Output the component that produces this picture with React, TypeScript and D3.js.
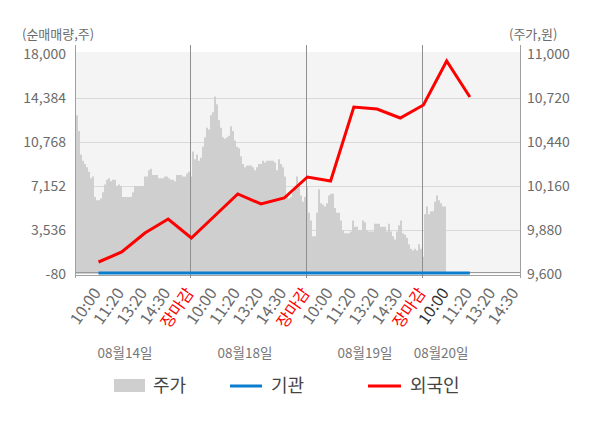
import { useEffect, useRef } from 'react';
import * as d3 from 'd3';

// x-axis categories (4 trading days)
const tickLabels = [
    "10:00", "11:20", "13:20", "14:30", "장마감",
    "10:00", "11:20", "13:20", "14:30", "장마감",
    "10:00", "11:20", "13:20", "14:30", "장마감",
    "10:00", "11:20", "13:20", "14:30",
];
const dayLabels = ["08월14일", "08월18일", "08월19일", "08월20일"];

// 순매매량 (주) per tick
const foreignNet = [906, 1728, 3290, 4440, 2879, 4687, 6495, 5673, 6166, 7892, 7563, 13644, 13480, 12740, 13809, 17425, 14466];
const institutionNet = [0, 0, 0, 0, 0, 0, 0, 0, 0, 0, 0, 0, 0, 0, 0, 0, 0];

const leftTicks = [-80, 3536, 7152, 10768, 14384, 18000];
const rightTicks = [9600, 9880, 10160, 10440, 10720, 11000];

// 주가 (원), intraday samples
const priceDay1 = [10610, 10510, 10360, 10320, 10300, 10280, 10250, 10210, 10220, 10090, 10070, 10070, 10080, 10120, 10170, 10200, 10210, 10190, 10200, 10200, 10160, 10170, 10160, 10090, 10090, 10090, 10090, 10090, 10120, 10160, 10160, 10160, 10160, 10160, 10220, 10220, 10260, 10270, 10230, 10230, 10230, 10210, 10210, 10210, 10220, 10220, 10210, 10200, 10200, 10190, 10230, 10230, 10230, 10220, 10220, 10240, 10250, 10220];
const priceDay2 = [10380, 10330, 10360, 10320, 10340, 10410, 10470, 10530, 10520, 10610, 10630, 10730, 10680, 10580, 10530, 10470, 10460, 10470, 10480, 10540, 10510, 10450, 10410, 10400, 10350, 10300, 10280, 10290, 10290, 10290, 10280, 10260, 10280, 10300, 10300, 10320, 10310, 10320, 10320, 10320, 10320, 10310, 10260, 10330, 10300, 10280, 10220, 10100, 10080, 10090, 10120, 10160, 10220, 10160, 10100, 10060, 10090, 10160];
const priceDay3 = [9990, 9940, 9840, 9840, 9990, 10140, 10050, 10040, 10030, 10050, 10100, 10110, 10110, 10020, 9990, 9990, 9940, 9880, 9860, 9860, 9860, 9870, 9940, 9900, 9900, 9880, 9880, 9940, 9930, 9880, 9870, 9870, 9870, 9920, 9920, 9920, 9900, 9900, 9900, 9870, 9920, 9870, 9840, 9820, 9870, 9910, 9940, 9860, 9850, 9830, 9790, 9760, 9750, 9760, 9750, 9790, 9760, 9710];
const priceDay4 = [9980, 10030, 9980, 10000, 10000, 10060, 10100, 10070, 10050, 10030, 10030];

const FONT = '"Noto Sans CJK KR", "Noto Sans", sans-serif';

export default function App() {
    const ref = useRef<SVGSVGElement>(null);

    useEffect(() => {
        if (!ref.current) return;
        const svg = d3.select(ref.current);
        svg.selectAll("*").remove();

        const left = 76, right = 520, top = 52, bottom = 274;
        const prices = [...priceDay1, ...priceDay2, ...priceDay3, ...priceDay4];
        const fmt = (v: number) => d3.format(",")(v).replace("−", "-");

        const xCat = d3.scaleLinear().domain([-0.97, 18.16]).range([left, right]);
        const xPrice = d3.scaleLinear().domain([0, prices.length - 1]).range([left, 444]);
        const yLeft = d3.scaleLinear().domain([-80, 18000]).range([274, 54]);
        const yRight = d3.scaleLinear().domain([9600, 11000]).range([274, 54]);

        // plot background
        svg.append("rect")
            .attr("x", left).attr("y", top)
            .attr("width", right - left).attr("height", bottom - top)
            .attr("fill", "#f4f4f4");

        // gridlines
        svg.append("g")
            .selectAll("line")
            .data(leftTicks.slice(1, -1))
            .join("line")
            .attr("x1", left).attr("x2", right)
            .attr("y1", d => Math.round(yLeft(d)) + 0.5)
            .attr("y2", d => Math.round(yLeft(d)) + 0.5)
            .attr("stroke", "#d9d9d9");

        // price area
        const area = d3.area<number>()
            .x((d, i) => xPrice(i))
            .y0(yRight(9600))
            .y1(d => yRight(d))
            .curve(d3.curveStepAfter);
        svg.append("path")
            .datum([...prices, prices[prices.length - 1]])
            .attr("d", area)
            .attr("fill", "#cfcfcf");

        // zero line
        svg.append("line")
            .attr("x1", left).attr("x2", right)
            .attr("y1", Math.round(yLeft(0)) - 0.5).attr("y2", Math.round(yLeft(0)) - 0.5)
            .attr("stroke", "#9a9a9a");

        // axis lines
        svg.append("line")
            .attr("x1", left).attr("x2", right)
            .attr("y1", 275.5).attr("y2", 275.5)
            .attr("stroke", "#a0a0a0");
        [left - 0.5, right + 0.5].forEach(x => {
            svg.append("line")
                .attr("x1", x).attr("x2", x)
                .attr("y1", 45).attr("y2", 278)
                .attr("stroke", "#a0a0a0");
        });

        // day separators at 장마감
        svg.append("g")
            .selectAll("line")
            .data(tickLabels.map((t, i) => ({ t, i })).filter(d => d.t === "장마감"))
            .join("line")
            .attr("x1", d => Math.round(xCat(d.i)) - 0.5)
            .attr("x2", d => Math.round(xCat(d.i)) - 0.5)
            .attr("y1", 45).attr("y2", 278)
            .attr("stroke", "#8f8f8f");

        // net buying lines
        const line = d3.line<number>()
            .x((d, i) => xCat(i))
            .y(d => yLeft(d));
        svg.append("path")
            .datum(institutionNet)
            .attr("d", line)
            .attr("fill", "none")
            .attr("stroke", "#0a7dcc")
            .attr("stroke-width", 3);
        svg.append("path")
            .datum(foreignNet)
            .attr("d", line)
            .attr("fill", "none")
            .attr("stroke", "#ff0000")
            .attr("stroke-width", 3);

        // left axis labels
        svg.append("g")
            .selectAll("text")
            .data(leftTicks)
            .join("text")
            .attr("x", 66)
            .attr("y", d => yLeft(d))
            .attr("dy", "0.35em")
            .attr("text-anchor", "end")
            .style("font-size", "14px")
            .style("fill", "#6b6b6b")
            .text(d => fmt(d));

        // right axis labels
        svg.append("g")
            .selectAll("text")
            .data(rightTicks)
            .join("text")
            .attr("x", 527)
            .attr("y", d => yRight(d))
            .attr("dy", "0.35em")
            .style("font-size", "14px")
            .style("fill", "#6b6b6b")
            .text(d => fmt(d));

        // units
        svg.append("text")
            .attr("x", 22).attr("y", 34).attr("dy", "0.35em")
            .style("font-size", "13px").style("fill", "#6b6b6b")
            .text("(순매매량,주)");
        svg.append("text")
            .attr("x", 509).attr("y", 34).attr("dy", "0.35em")
            .style("font-size", "13px").style("fill", "#6b6b6b")
            .text("(주가,원)");

        // x tick labels
        svg.append("g")
            .selectAll("text")
            .data(tickLabels)
            .join("text")
            .attr("text-anchor", "end")
            .attr("transform", (d, i) => `translate(${xCat(i) + 3},293) rotate(-55)`)
            .style("font-size", "16px")
            .style("fill", (d, i) => d === "장마감" ? "#ff0000" : i === 15 ? "#333333" : "#6b6b6b")
            .text(d => d);

        // day labels
        const dayLabelAt = [1.14, 6.31, 11.48, 14.76];
        svg.append("g")
            .selectAll("text")
            .data(dayLabels)
            .join("text")
            .attr("x", (d, i) => xCat(dayLabelAt[i]))
            .attr("y", 353)
            .attr("dy", "0.35em")
            .attr("text-anchor", "middle")
            .style("font-size", "13.5px")
            .style("fill", "#777777")
            .text(d => d);

        // legend
        const legend = svg.append("g");
        legend.append("rect")
            .attr("x", 114).attr("y", 379).attr("width", 31).attr("height", 13)
            .attr("fill", "#cfcfcf");
        legend.append("line")
            .attr("x1", 230).attr("x2", 262).attr("y1", 386).attr("y2", 386)
            .attr("stroke", "#0a7dcc").attr("stroke-width", 3);
        legend.append("line")
            .attr("x1", 368).attr("x2", 401).attr("y1", 386).attr("y2", 386)
            .attr("stroke", "#ff0000").attr("stroke-width", 3);
        const legendItems = [
            { label: "주가", x: 153 },
            { label: "기관", x: 271 },
            { label: "외국인", x: 410 },
        ];
        legend.selectAll("text")
            .data(legendItems)
            .join("text")
            .attr("x", d => d.x)
            .attr("y", 386)
            .attr("dy", "0.35em")
            .style("font-size", "18px")
            .style("fill", "#444444")
            .text(d => d.label);
    }, []);

    return (
        <div style={{ position: "absolute", left: 0, top: 0 }}>
            <svg ref={ref} width={600} height={428} style={{ display: "block", fontFamily: FONT }}></svg>
        </div>
    );
}
